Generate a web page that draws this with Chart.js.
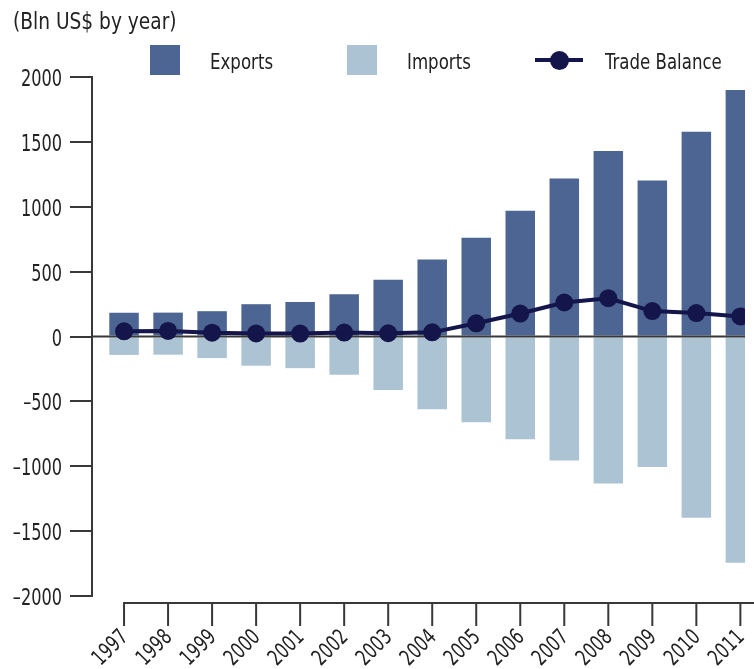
<!DOCTYPE html>
<html>
<head>
<meta charset="utf-8">
<script src="https://cdn.jsdelivr.net/npm/chart.js@4.4.1/dist/chart.umd.min.js"></script>
<style>
  html, body { margin: 0; padding: 0; background: #fff; overflow: hidden; }
  #wrap { position: relative; width: 754px; height: 669px; }
  .texte {
    position: absolute; white-space: nowrap; color: #222;
    font-family: "DejaVu Sans Condensed", "DejaVu Sans", sans-serif;
    transform: scaleX(0.88); transform-origin: left top;
  }
  #titre { left: 13px; top: 10px; font-size: 23.5px; line-height: 1; }
  .item { position: absolute; top: 45px; height: 30px; }
  .item .texte { top: 7px; font-size: 21px; line-height: 1; }
  .carre { position: absolute; left: 0; top: 0; width: 30px; height: 30px; }
  .trait { position: absolute; left: 0; width: 48px; top: 13px; height: 4px; }
  .rond { position: absolute; left: 14.5px; top: 5.5px; width: 19px; height: 19px; border-radius: 50%; }
</style>
</head>
<body>
<div id="wrap">
  <canvas id="graphique" width="754" height="669"></canvas>
  <div id="titre" class="texte">(Bln US$ by year)</div>
  <div id="legende"></div>
</div>
<script>
// Données (milliards de US$ par an)
const annees = ["1997", "1998", "1999", "2000", "2001", "2002", "2003", "2004",
  "2005", "2006", "2007", "2008", "2009", "2010", "2011"];
const exportations = [183, 184, 195, 249, 266, 326, 438, 593, 762, 969, 1218, 1429, 1202, 1578, 1899];
const importations = [-142, -140, -166, -225, -244, -295, -413, -561, -660, -792, -956, -1133, -1006, -1396, -1743];
const balance = [40, 43, 29, 24, 23, 30, 25, 32, 102, 177, 262, 295, 196, 181, 155];
const graduations = [-2000, -1500, -1000, -500, 0, 500, 1000, 1500, 2000];

// Couleurs et police
const bleuExport = "#4d6592";
const bleuImport = "#abc3d3";
const marine = "#14154a";
const couleurAxe = "#383838";
const police = '"DejaVu Sans Condensed", "DejaVu Sans", sans-serif';

function texteY(v) {
  return v < 0 ? "\u2013" + Math.abs(v) : String(v);
}

// Axe horizontal : ligne décalée sous la zone du graphique, avec ses traits
const axeX = {
  id: "axeX",
  afterDraw(chart) {
    const ctx = chart.ctx;
    const x = chart.scales.x;
    const y0 = chart.chartArea.bottom + 7;
    ctx.save();
    ctx.strokeStyle = couleurAxe;
    ctx.lineWidth = 2;
    ctx.beginPath();
    ctx.moveTo(x.getPixelForValue(Number(annees[0])) - 1, y0);
    ctx.lineTo(chart.width, y0);
    annees.forEach(a => {
      const px = x.getPixelForValue(Number(a));
      ctx.moveTo(px, y0);
      ctx.lineTo(px, y0 + 23);
    });
    ctx.stroke();
    ctx.restore();
  }
};

// Étiquettes des axes, police resserrée
const etiquettes = {
  id: "etiquettes",
  afterDraw(chart) {
    const ctx = chart.ctx;
    const x = chart.scales.x;
    const y = chart.scales.y;
    ctx.save();
    ctx.fillStyle = "#222";
    ctx.textAlign = "right";
    ctx.textBaseline = "alphabetic";
    ctx.font = "23px " + police;
    graduations.forEach(v => {
      ctx.save();
      ctx.translate(chart.chartArea.left - 30, y.getPixelForValue(v) + 9);
      ctx.scale(0.78, 1);
      ctx.fillText(texteY(v), 0, 0);
      ctx.restore();
    });
    ctx.font = "22px " + police;
    ctx.textBaseline = "middle";
    const bas = chart.chartArea.bottom + 38;
    annees.forEach(a => {
      ctx.save();
      ctx.translate(x.getPixelForValue(Number(a)) + 1, bas);
      ctx.rotate(-Math.PI / 4);
      ctx.scale(0.8, 1);
      ctx.fillText(a, 0, 0);
      ctx.restore();
    });
    ctx.restore();
  }
};

// Ligne du zéro, dessinée au-dessus des barres mais sous la courbe
const ligneZero = {
  id: "ligneZero",
  beforeDatasetDraw(chart, args) {
    if (args.index !== 0) return;
    const ctx = chart.ctx;
    const y = chart.scales.y.getPixelForValue(0);
    ctx.save();
    ctx.strokeStyle = couleurAxe;
    ctx.lineWidth = 2;
    ctx.beginPath();
    ctx.moveTo(chart.chartArea.left, y);
    ctx.lineTo(chart.chartArea.right, y);
    ctx.stroke();
    ctx.restore();
  }
};

const ctx = document.getElementById("graphique");
const graphique = new Chart(ctx, {
  type: "bar",
  data: {
    labels: annees,
    datasets: [
      {
        type: "line",
        label: "Trade Balance",
        data: balance,
        borderColor: marine,
        backgroundColor: marine,
        borderWidth: 4,
        pointRadius: 9,
        pointBackgroundColor: marine,
        pointBorderWidth: 0,
        tension: 0,
        order: 0
      },
      {
        label: "Exports",
        data: exportations,
        backgroundColor: bleuExport,
        grouped: false,
        categoryPercentage: 1,
        barPercentage: 0.67,
        order: 1
      },
      {
        label: "Imports",
        data: importations,
        backgroundColor: bleuImport,
        grouped: false,
        categoryPercentage: 1,
        barPercentage: 0.67,
        order: 1
      }
    ]
  },
  options: {
    responsive: false,
    animation: false,
    devicePixelRatio: 1,
    layout: { padding: { top: 77, left: 0, right: 0, bottom: 0 } },
    plugins: {
      legend: { display: false },
      tooltip: { enabled: false }
    },
    scales: {
      x: {
        type: "linear",
        min: 1996.272,
        max: 2011.105,
        offset: false,
        border: { display: false },
        grid: { display: false },
        ticks: { display: false },
        afterBuildTicks(s) { s.ticks = annees.map(a => ({ value: Number(a) })); },
        afterFit(s) { s.height = 73; s.paddingLeft = 0; s.paddingRight = 0; }
      },
      y: {
        min: -2000,
        max: 2000,
        border: { display: true, color: couleurAxe, width: 2 },
        grid: { drawOnChartArea: false, color: couleurAxe, lineWidth: 2, tickLength: 22 },
        ticks: { display: false },
        afterBuildTicks(s) { s.ticks = graduations.map(v => ({ value: v })); },
        afterFit(s) { s.width = 92; s.paddingTop = 0; s.paddingBottom = 0; }
      }
    }
  },
  plugins: [axeX, etiquettes, ligneZero]
});

// Légende construite à partir des séries
const positionsLegende = { "Exports": 150, "Imports": 347, "Trade Balance": 535 };
function afficheLegende() {
  const legende = document.getElementById("legende");
  legende.innerHTML = "";
  ["Exports", "Imports", "Trade Balance"].forEach(nom => {
    const ds = graphique.data.datasets.find(d => d.label === nom);
    const item = document.createElement("div");
    item.className = "item";
    item.style.left = positionsLegende[nom] + "px";
    if (ds.type === "line") {
      item.innerHTML = `<span class="trait" style="background:${ds.borderColor}"></span>` +
        `<span class="rond" style="background:${ds.borderColor}"></span>` +
        `<span class="texte" style="left:70px">${ds.label}</span>`;
    } else {
      item.innerHTML = `<span class="carre" style="background:${ds.backgroundColor}"></span>` +
        `<span class="texte" style="left:60px">${ds.label}</span>`;
    }
    legende.appendChild(item);
  });
}
afficheLegende();
</script>
</body>
</html>
